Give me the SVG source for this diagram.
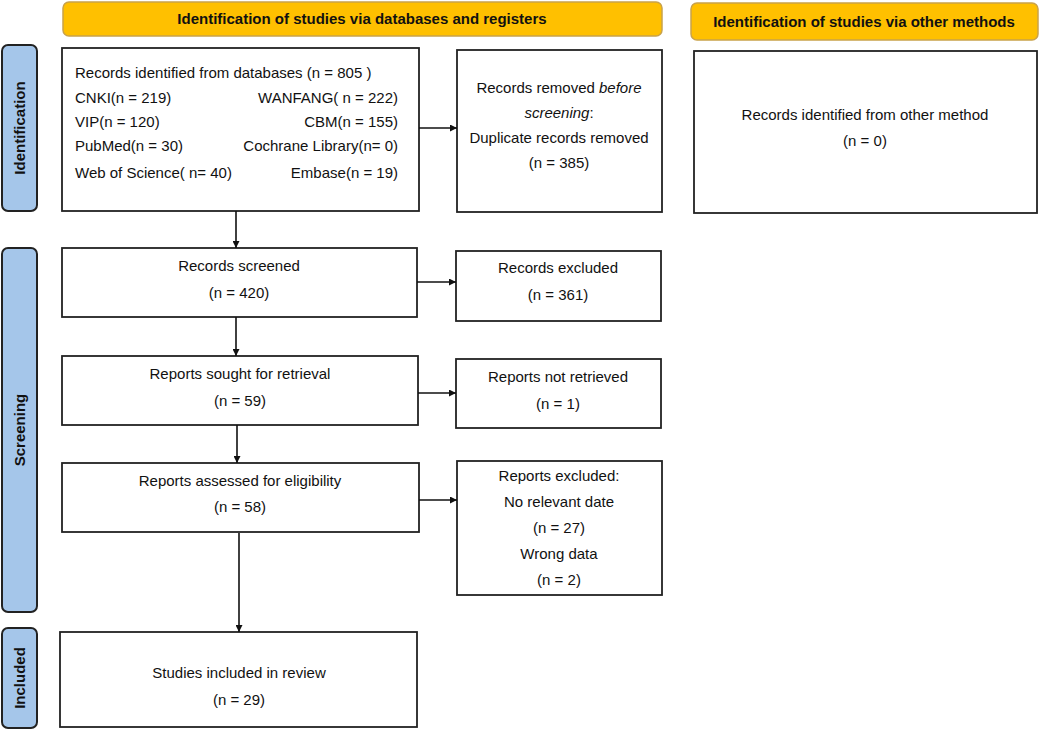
<svg xmlns="http://www.w3.org/2000/svg" width="1040" height="730" viewBox="0 0 1040 730">
<style>
text{font-family:"Liberation Sans",Arial,sans-serif;fill:#111}
.hdr{fill:#FFC000;stroke:#C9A24A;stroke-width:1.5}
.ht{font-size:15px;font-weight:bold;text-anchor:middle}
.bar{fill:#A5C6EA;stroke:#222;stroke-width:2}
.bt{font-size:15px;font-weight:bold;text-anchor:middle}
.box{fill:#fff;stroke:#222;stroke-width:1.8}
.t{font-size:15px;text-anchor:middle}
.tl{font-size:15px}
.tr{font-size:15px;text-anchor:end}
.con{stroke:#111;stroke-width:1.6;fill:none;marker-end:url(#ah)}
</style>
<defs>
<marker id="ah" viewBox="0 0 10 10" refX="10" refY="5" markerWidth="7" markerHeight="7" markerUnits="userSpaceOnUse" orient="auto">
<path d="M0,0 L10,5 L0,10 z" fill="#111"/>
</marker>
</defs>
<rect width="1040" height="730" fill="#fff"/>

<g id="header-databases"><rect class="hdr" x="63" y="2" width="599" height="34" rx="6"/><text class="ht" x="362" y="24">Identification of studies via databases and registers</text></g>
<g id="header-other"><rect class="hdr" x="691" y="3" width="347" height="37" rx="6"/><text class="ht" x="864" y="27">Identification of studies via other methods</text></g>

<g id="bar-identification"><rect class="bar" x="2" y="45" width="35" height="166" rx="6"/><text class="bt" transform="translate(25,128) rotate(-90)">Identification</text></g>
<g id="bar-screening"><rect class="bar" x="2" y="248" width="35" height="364" rx="6"/><text class="bt" transform="translate(25,430) rotate(-90)">Screening</text></g>
<g id="bar-included"><rect class="bar" x="2" y="628" width="35" height="100" rx="6"/><text class="bt" transform="translate(25,678) rotate(-90)">Included</text></g>

<g id="records-identified"><rect class="box" x="62" y="48" width="357" height="163"/>
<text class="tl" x="75" y="78">Records identified from databases (n = 805 )</text>
<text class="tl" x="75" y="103">CNKI(n = 219)</text><text class="tr" x="398" y="103">WANFANG( n = 222)</text>
<text class="tl" x="75" y="127">VIP(n = 120)</text><text class="tr" x="398" y="127">CBM(n = 155)</text>
<text class="tl" x="75" y="151">PubMed(n = 30)</text><text class="tr" x="398" y="151">Cochrane Library(n= 0)</text>
<text class="tl" x="75" y="178">Web of Science( n= 40)</text><text class="tr" x="398" y="178">Embase(n = 19)</text>
</g>
<g id="records-removed"><rect class="box" x="457" y="50" width="205" height="162"/>
<text class="t" x="559" y="93">Records removed <tspan font-style="italic">before</tspan></text>
<text class="t" x="559" y="118"><tspan font-style="italic">screening</tspan>:</text>
<text class="t" x="559" y="143">Duplicate records removed</text>
<text class="t" x="559" y="168">(n = 385)</text>
</g>
<g id="other-method"><rect class="box" x="694" y="51" width="343" height="162"/>
<text class="t" x="865" y="120">Records identified from other method</text>
<text class="t" x="865" y="146">(n = 0)</text>
</g>
<g id="records-screened"><rect class="box" x="62" y="248" width="355" height="69"/>
<text class="t" x="239" y="271">Records screened</text><text class="t" x="239" y="298">(n = 420)</text></g>
<g id="records-excluded"><rect class="box" x="456" y="251" width="205" height="70"/>
<text class="t" x="558" y="273">Records excluded</text><text class="t" x="558" y="300">(n = 361)</text></g>
<g id="reports-sought"><rect class="box" x="62" y="356" width="356" height="69"/>
<text class="t" x="240" y="379">Reports sought for retrieval</text><text class="t" x="240" y="406">(n = 59)</text></g>
<g id="reports-not-retrieved"><rect class="box" x="456" y="359" width="205" height="69"/>
<text class="t" x="558" y="382">Reports not retrieved</text><text class="t" x="558" y="409">(n = 1)</text></g>
<g id="reports-assessed"><rect class="box" x="62" y="463" width="357" height="69"/>
<text class="t" x="240" y="486">Reports assessed for eligibility</text><text class="t" x="240" y="512">(n = 58)</text></g>
<g id="reports-excluded"><rect class="box" x="457" y="461" width="205" height="134"/>
<text class="t" x="559" y="481">Reports excluded:</text>
<text class="t" x="559" y="507">No relevant date</text>
<text class="t" x="559" y="533">(n = 27)</text>
<text class="t" x="559" y="559">Wrong data</text>
<text class="t" x="559" y="585">(n = 2)</text>
</g>
<g id="studies-included"><rect class="box" x="60" y="632" width="357" height="95"/>
<text class="t" x="239" y="678">Studies included in review</text><text class="t" x="239" y="705">(n = 29)</text></g>

<g id="connectors">
<path class="con" d="M236,211 V248"/>
<path class="con" d="M419,128 H457"/>
<path class="con" d="M236,317 V356"/>
<path class="con" d="M417,282 H456"/>
<path class="con" d="M237,425 V463"/>
<path class="con" d="M418,393 H456"/>
<path class="con" d="M239,533 V632"/>
<path class="con" d="M419,500 H457"/>
</g>
</svg>
